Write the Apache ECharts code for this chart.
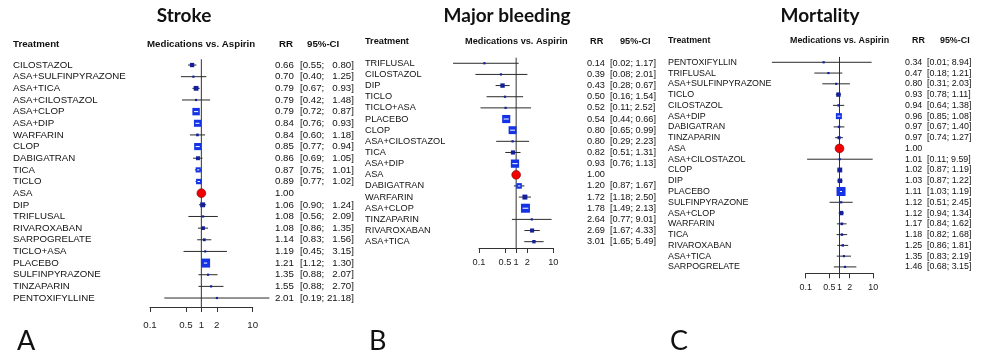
<!DOCTYPE html>
<html>
<head>
<meta charset="utf-8">
<title>Medications vs. Aspirin - forest plots</title>
<script src="https://cdn.jsdelivr.net/npm/echarts@6/dist/echarts.min.js"></script>
<style>
html, body { margin: 0; padding: 0; background: #fff; }
#chart { width: 986px; height: 358px; }
</style>
</head>
<body>
<div id="chart"></div>
<script>
// A - stroke
const strokeNames = ['CILOSTAZOL', 'ASA+SULFINPYRAZONE', 'ASA+TICA', 'ASA+CILOSTAZOL', 'ASA+CLOP', 'ASA+DIP',
  'WARFARIN', 'CLOP', 'DABIGATRAN', 'TICA', 'TICLO', 'ASA', 'DIP', 'TRIFLUSAL', 'RIVAROXABAN',
  'SARPOGRELATE', 'TICLO+ASA', 'PLACEBO', 'SULFINPYRAZONE', 'TINZAPARIN', 'PENTOXIFYLLINE'];
const strokeRR = [0.66, 0.70, 0.79, 0.79, 0.79, 0.84, 0.84, 0.85, 0.86, 0.87, 0.89, 1.00, 1.06, 1.08, 1.08, 1.14, 1.19, 1.21, 1.35, 1.55, 2.01];
const strokeLo = [0.55, 0.40, 0.67, 0.42, 0.72, 0.76, 0.60, 0.77, 0.69, 0.75, 0.77, null, 0.90, 0.56, 0.86, 0.83, 0.45, 1.12, 0.88, 0.88, 0.19];
const strokeHi = [0.80, 1.25, 0.93, 1.48, 0.87, 0.93, 1.18, 0.94, 1.05, 1.01, 1.02, null, 1.24, 2.09, 1.35, 1.56, 3.15, 1.30, 2.07, 2.70, 21.18];

// B - major bleeding
const bleedNames = ['TRIFLUSAL', 'CILOSTAZOL', 'DIP', 'TICLO', 'TICLO+ASA', 'PLACEBO', 'CLOP', 'ASA+CILOSTAZOL',
  'TICA', 'ASA+DIP', 'ASA', 'DABIGATRAN', 'WARFARIN', 'ASA+CLOP', 'TINZAPARIN', 'RIVAROXABAN', 'ASA+TICA'];
const bleedRR = [0.14, 0.39, 0.43, 0.50, 0.52, 0.54, 0.80, 0.80, 0.82, 0.93, 1.00, 1.20, 1.72, 1.78, 2.64, 2.69, 3.01];
const bleedLo = [0.02, 0.08, 0.28, 0.16, 0.11, 0.44, 0.65, 0.29, 0.51, 0.76, null, 0.87, 1.18, 1.49, 0.77, 1.67, 1.65];
const bleedHi = [1.17, 2.01, 0.67, 1.54, 2.52, 0.66, 0.99, 2.23, 1.31, 1.13, null, 1.67, 2.50, 2.13, 9.01, 4.33, 5.49];

// C - mortality
const mortNames = ['PENTOXIFYLLIN', 'TRIFLUSAL', 'ASA+SULFINPYRAZONE', 'TICLO', 'CILOSTAZOL', 'ASA+DIP', 'DABIGATRAN',
  'TINZAPARIN', 'ASA', 'ASA+CILOSTAZOL', 'CLOP', 'DIP', 'PLACEBO', 'SULFINPYRAZONE', 'ASA+CLOP', 'WARFARIN',
  'TICA', 'RIVAROXABAN', 'ASA+TICA', 'SARPOGRELATE'];
const mortRR = [0.34, 0.47, 0.80, 0.93, 0.94, 0.96, 0.97, 0.97, 1.00, 1.01, 1.02, 1.03, 1.11, 1.12, 1.12, 1.17, 1.18, 1.25, 1.35, 1.46];
const mortLo = [0.01, 0.18, 0.31, 0.78, 0.64, 0.85, 0.67, 0.74, null, 0.11, 0.87, 0.87, 1.03, 0.51, 0.94, 0.84, 0.82, 0.86, 0.83, 0.68];
const mortHi = [8.94, 1.21, 2.03, 1.11, 1.38, 1.08, 1.40, 1.27, null, 9.59, 1.19, 1.22, 1.19, 2.45, 1.34, 1.62, 1.68, 1.81, 2.19, 3.15];

const tickValues = [0.1, 0.5, 1, 2, 10];

const FONT = '"Liberation Sans", Arial, sans-serif';
const TITLE_FONT = 'Lato, "Open Sans", sans-serif';

const panels = [
  { title: 'Stroke', letter: 'A', names: strokeNames, rr: strokeRR, lo: strokeLo, hi: strokeHi,
    fs: 9.7, nameX: 13, left: 150, width: 102.7, top: 59.2, rowH: 11.65, axisY: 307, tickMargin: 13,
    rrX: 275, ciX: 300, headY: 44, medX: 147, rrHeadX: 279, ciHeadX: 307, titleX: 184, letterX: 17 },
  { title: 'Major bleeding', letter: 'B', names: bleedNames, rr: bleedRR, lo: bleedLo, hi: bleedHi,
    fs: 9.2, nameX: 365, left: 479, width: 74.3, top: 57.7, rowH: 11.15, axisY: 248, tickMargin: 10,
    rrX: 587, ciX: 610, headY: 41, medX: 465, rrHeadX: 590, ciHeadX: 620, titleX: 507, letterX: 369 },
  { title: 'Mortality', letter: 'C', names: mortNames, rr: mortRR, lo: mortLo, hi: mortHi,
    fs: 8.9, nameX: 668, left: 805.7, width: 67.6, top: 56.9, rowH: 10.77, axisY: 273.3, tickMargin: 10,
    rrX: 905, ciX: 927, headY: 41, medX: 790, rrHeadX: 912, ciHeadX: 940, titleX: 820, letterX: 670 }
];

const logTicks = tickValues.map(v => Math.log10(v));

function fmtCI(lo, hi, hiLen) {
  if (lo == null) return '';
  const h = hi.toFixed(2);
  return '[' + lo.toFixed(2) + '; ' + ' '.repeat(2 * (hiLen - h.length)) + h + ']';
}

function pointRenderer(maxSide, minW) {
  return function (params, api) {
    const row = api.value(0);
    const lo = api.value(1), hi = api.value(2), rr = api.value(3);
    const p = api.coord([rr, row]);
    if (api.value(4) === 1) {
      return { type: 'circle', z2: 10, shape: { cx: p[0], cy: p[1], r: 4.4 },
        style: { fill: '#f00000', stroke: '#800000', lineWidth: 0.6 } };
    }
    const xl = api.coord([lo, row])[0];
    const xh = api.coord([hi, row])[0];
    const s = Math.max(2.2, maxSide * Math.pow(minW / (hi - lo), 0.8));
    const children = [
      { type: 'line', shape: { x1: xl, y1: p[1], x2: xh, y2: p[1] }, style: { stroke: '#2a2a2a', lineWidth: 1 } },
      { type: 'rect', shape: { x: p[0] - s / 2, y: p[1] - s / 2, width: s, height: s },
        style: { fill: s < 5 ? '#14209a' : '#1533e6' } }
    ];
    if (s >= 5) {
      children.push({ type: 'line',
        shape: { x1: Math.max(xl, p[0] - s / 2 + 1.5), y1: p[1], x2: Math.min(xh, p[0] + s / 2 - 1.5), y2: p[1] },
        style: { stroke: '#fff', lineWidth: 1 } });
    }
    return { type: 'group', children: children };
  };
}

const grid = [], xAxis = [], yAxis = [], series = [], graphic = [];

panels.forEach(function (pn, i) {
  const n = pn.names.length;
  const h = n * pn.rowH;
  const offset = pn.axisY - (pn.top + h);
  const hiLen = Math.max.apply(null, pn.hi.filter(v => v != null).map(v => v.toFixed(2).length));
  let minW = Infinity;
  pn.lo.forEach(function (l, k) {
    if (l != null) minW = Math.min(minW, Math.log10(pn.hi[k]) - Math.log10(l));
  });

  grid.push({ left: pn.left, top: pn.top, width: pn.width, height: h });

  xAxis.push({
    type: 'value', gridIndex: i, min: -1, max: 1, offset: offset,
    axisLine: { show: true, lineStyle: { color: '#333', width: 1 } },
    axisTick: { show: true, customValues: logTicks, length: 5, lineStyle: { color: '#333', width: 1 } },
    axisLabel: {
      customValues: logTicks, margin: pn.tickMargin, fontSize: pn.fs, fontFamily: FONT, color: '#222',
      formatter: v => String(+Math.pow(10, v).toFixed(2))
    },
    splitLine: { show: false }
  });

  yAxis.push({
    type: 'category', gridIndex: i, data: pn.names, inverse: true,
    axisLine: { show: false }, axisTick: { show: false },
    axisLabel: { interval: 0, align: 'left', margin: pn.left - pn.nameX, fontSize: pn.fs, fontFamily: FONT, color: '#111' }
  });
  yAxis.push({
    type: 'category', gridIndex: i, position: 'right', data: pn.names, inverse: true,
    axisLine: { show: false }, axisTick: { show: false },
    axisLabel: {
      interval: 0, align: 'left', margin: pn.rrX - (pn.left + pn.width),
      formatter: function (v, k) {
        return '{rr|' + pn.rr[k].toFixed(2) + '}{ci|' + fmtCI(pn.lo[k], pn.hi[k], hiLen) + '}';
      },
      rich: {
        rr: { width: pn.ciX - pn.rrX, fontSize: pn.fs, fontFamily: FONT, color: '#111' },
        ci: { fontSize: pn.fs, fontFamily: FONT, color: '#111' }
      }
    }
  });

  // vertical reference line at RR = 1
  series.push({
    type: 'custom', xAxisIndex: i, yAxisIndex: 2 * i, silent: true,
    data: [[0, 0]],
    renderItem: function (params, api) {
      const cs = params.coordSys;
      const x = api.coord([0, 0])[0];
      return { type: 'line', shape: { x1: x, y1: cs.y, x2: x, y2: cs.y + cs.height + offset },
        style: { stroke: '#333', lineWidth: 1 } };
    }
  });

  // CI lines, squares, and the reference treatment (ASA) as a red circle
  series.push({
    type: 'custom', xAxisIndex: i, yAxisIndex: 2 * i, silent: true, clip: false,
    data: pn.names.map(function (name, k) {
      const isRef = pn.lo[k] == null;
      const r = Math.log10(pn.rr[k]);
      return [k,
        isRef ? r : Math.log10(pn.lo[k]),
        isRef ? r : Math.log10(pn.hi[k]),
        r, isRef ? 1 : 0];
    }),
    renderItem: pointRenderer(9, minW)
  });

  const headFont = 'bold ' + pn.fs + 'px ' + FONT;
  graphic.push(
    { type: 'text', x: pn.titleX, y: 16, style: { text: pn.title, font: 'bold 19px ' + TITLE_FONT, fill: '#111', align: 'center', verticalAlign: 'middle' } },
    { type: 'text', x: pn.nameX, y: pn.headY, style: { text: 'Treatment', font: headFont, fill: '#111', verticalAlign: 'middle' } },
    { type: 'text', x: pn.medX, y: pn.headY, style: { text: 'Medications vs. Aspirin', font: headFont, fill: '#111', verticalAlign: 'middle' } },
    { type: 'text', x: pn.rrHeadX, y: pn.headY, style: { text: 'RR', font: headFont, fill: '#111', verticalAlign: 'middle' } },
    { type: 'text', x: pn.ciHeadX, y: pn.headY, style: { text: '95%-CI', font: headFont, fill: '#111', verticalAlign: 'middle' } },
    { type: 'text', x: pn.letterX, y: 341, style: { text: pn.letter, font: '27px ' + TITLE_FONT, fill: '#111', verticalAlign: 'middle' } }
  );
});

const chart = echarts.init(document.getElementById('chart'));
chart.setOption({
  animation: false,
  backgroundColor: '#fff',
  grid: grid,
  xAxis: xAxis,
  yAxis: yAxis,
  series: series,
  graphic: graphic
});
</script>
</body>
</html>
